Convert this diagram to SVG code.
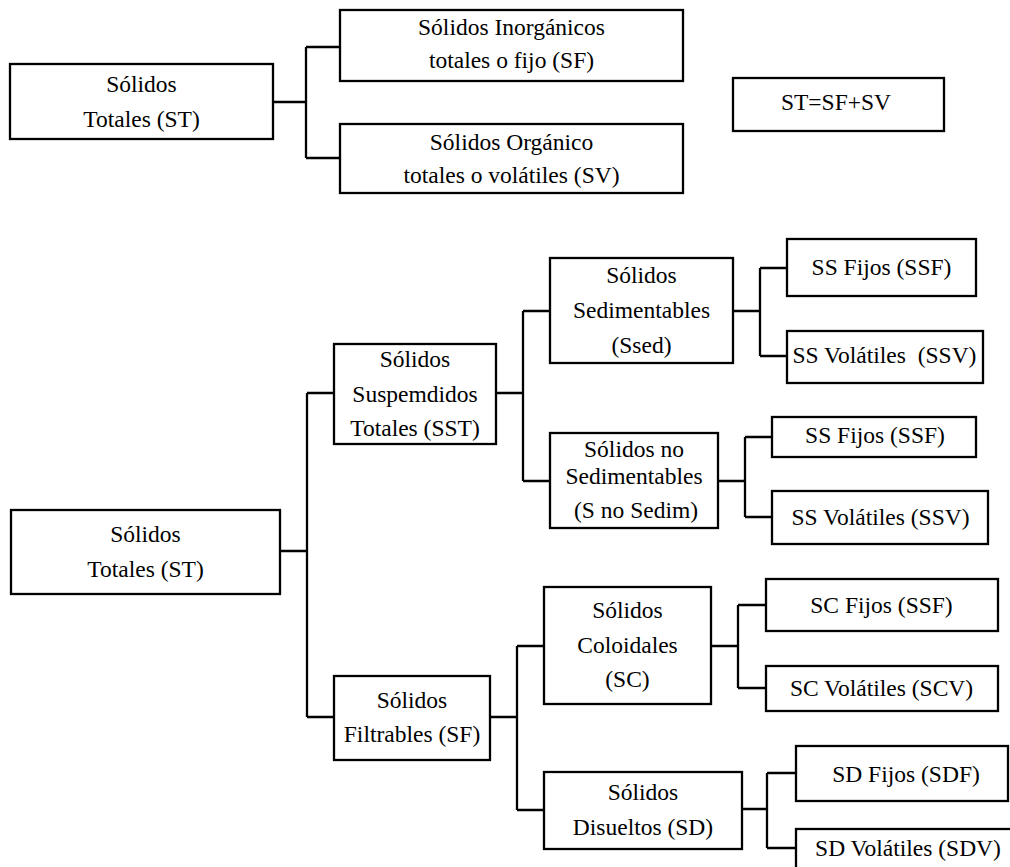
<svg xmlns="http://www.w3.org/2000/svg" width="1010" height="867" viewBox="0 0 1010 867">
<style>
.box{fill:#fff;stroke:#000;stroke-width:2.3}
.t{font-family:"Liberation Serif","Times New Roman",serif;font-size:23.5px;fill:#000;text-anchor:middle}
.c{fill:none;stroke:#000;stroke-width:2.3}
</style>
<rect width="1010" height="867" fill="#fff"/>
<g id="connectors">
<path class="c" d="M273 102H306M306 47V158M306 47H340M306 158H340"/>
<path class="c" d="M280 551H307M307 393V717M307 393H334M307 717H334"/>
<path class="c" d="M496 393H523M523 311V481M523 311H550M523 481H550"/>
<path class="c" d="M733 311H760M760 268V356M760 268H787M760 356H787"/>
<path class="c" d="M718 481H745M745 437V517M745 437H772M745 517H772"/>
<path class="c" d="M490 717H517M517 646V810M517 646H544M517 810H544"/>
<path class="c" d="M711 646H738M738 605V688M738 605H766M738 688H766"/>
<path class="c" d="M742 809H767M767 773V848M767 773H796M767 848H796"/>
</g>
<g id="top_st"><rect class="box" x="10" y="64" width="263" height="75"/><text class="t" x="141.5" y="92">Sólidos</text><text class="t" x="141.5" y="127">Totales (ST)</text></g>
<g id="top_sf"><rect class="box" x="340" y="10" width="343" height="71"/><text class="t" x="511.5" y="35">Sólidos Inorgánicos</text><text class="t" x="511.5" y="68">totales o fijo (SF)</text></g>
<g id="top_sv"><rect class="box" x="340" y="124" width="343" height="69"/><text class="t" x="511.5" y="150">Sólidos Orgánico</text><text class="t" x="511.5" y="183">totales o volátiles (SV)</text></g>
<g id="eq"><rect class="box" x="733" y="78" width="211" height="53"/><text class="t" x="836" y="110">ST=SF+SV</text></g>
<g id="st"><rect class="box" x="11" y="510" width="269" height="84"/><text class="t" x="145.5" y="542">Sólidos</text><text class="t" x="145.5" y="577">Totales (ST)</text></g>
<g id="sst"><rect class="box" x="334" y="344" width="162" height="100"/><text class="t" x="415" y="367">Sólidos</text><text class="t" x="415" y="402">Suspemdidos</text><text class="t" x="415" y="436">Totales (SST)</text></g>
<g id="sf"><rect class="box" x="334" y="676" width="156" height="84"/><text class="t" x="412" y="708">Sólidos</text><text class="t" x="412" y="742">Filtrables (SF)</text></g>
<g id="ssed"><rect class="box" x="550" y="258" width="183" height="105"/><text class="t" x="641.5" y="283">Sólidos</text><text class="t" x="641.5" y="318">Sedimentables</text><text class="t" x="641.5" y="353">(Ssed)</text></g>
<g id="snosed"><rect class="box" x="550" y="433" width="168" height="95"/><text class="t" x="634" y="457">Sólidos no</text><text class="t" x="634" y="484">Sedimentables</text><text class="t" x="636" y="518">(S no Sedim)</text></g>
<g id="ssf1"><rect class="box" x="787" y="239" width="189" height="57"/><text class="t" x="881.5" y="275">SS Fijos (SSF)</text></g>
<g id="ssv1"><rect class="box" x="787" y="331" width="196" height="52"/><text class="t" x="884.5" y="363" xml:space="preserve">SS Volátiles  (SSV)</text></g>
<g id="ssf2"><rect class="box" x="772" y="417" width="204" height="40"/><text class="t" x="875" y="443">SS Fijos (SSF)</text></g>
<g id="ssv2"><rect class="box" x="772" y="491" width="216" height="53"/><text class="t" x="880.5" y="525">SS Volátiles (SSV)</text></g>
<g id="sc"><rect class="box" x="544" y="587" width="167" height="117"/><text class="t" x="627.5" y="618">Sólidos</text><text class="t" x="627.5" y="653">Coloidales</text><text class="t" x="627.5" y="687">(SC)</text></g>
<g id="sd"><rect class="box" x="544" y="772" width="198" height="77"/><text class="t" x="643" y="800">Sólidos</text><text class="t" x="643" y="835">Disueltos (SD)</text></g>
<g id="scf"><rect class="box" x="766" y="579" width="232" height="52"/><text class="t" x="881.5" y="613">SC Fijos (SSF)</text></g>
<g id="scv"><rect class="box" x="766" y="666" width="232" height="45"/><text class="t" x="881.5" y="696">SC Volátiles (SCV)</text></g>
<g id="sdf"><rect class="box" x="796" y="746" width="212" height="55"/><text class="t" x="906" y="782">SD Fijos (SDF)</text></g>
<g id="sdv"><rect class="box" x="796" y="829" width="230" height="60"/><text class="t" x="908" y="856">SD Volátiles (SDV)</text></g>
</svg>
